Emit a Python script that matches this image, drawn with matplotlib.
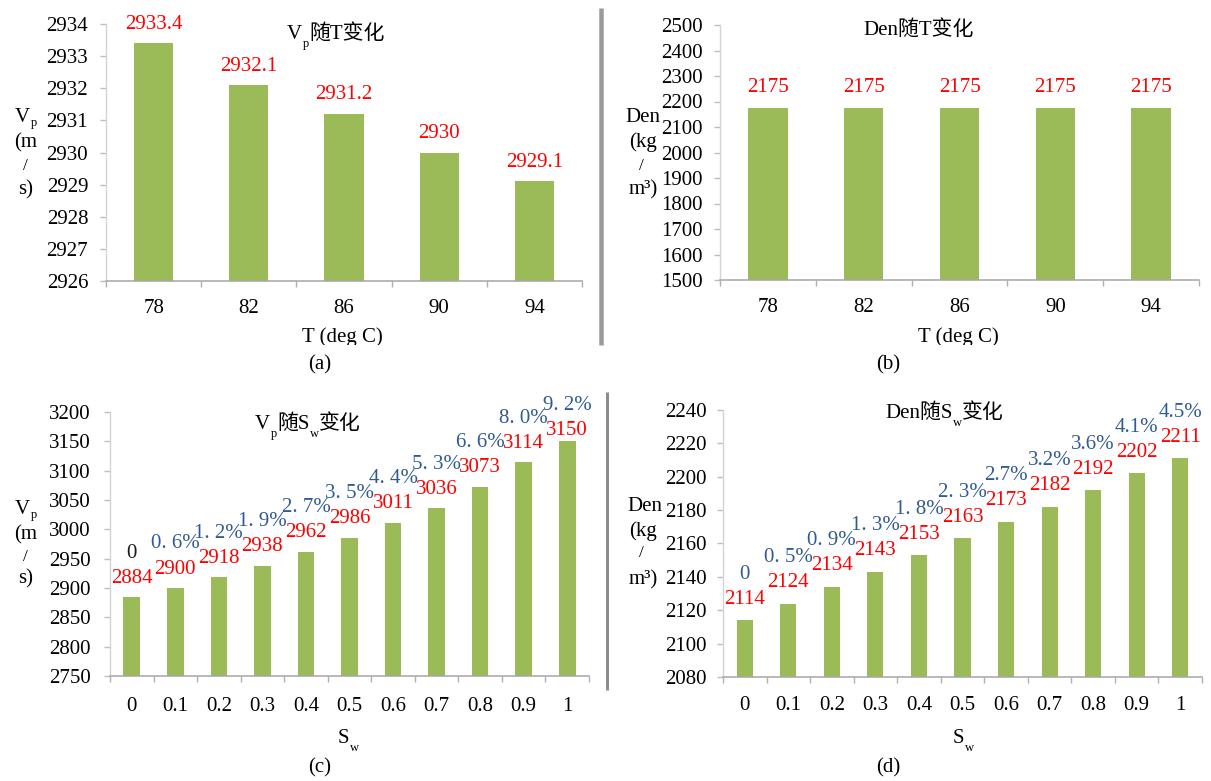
import numpy as np
import matplotlib
matplotlib.use("Agg")
import matplotlib.pyplot as plt
from matplotlib.transforms import Bbox

# ---- data ----
temps = ["78", "82", "86", "90", "94"]
vp_by_temp = [2933.4, 2932.1, 2931.2, 2930, 2929.1]
den_by_temp = [2175, 2175, 2175, 2175, 2175]

sw_labels = ["0", "0.1", "0.2", "0.3", "0.4", "0.5", "0.6", "0.7", "0.8", "0.9", "1"]
vp_by_sw = [2884, 2900, 2918, 2938, 2962, 2986, 3011, 3036, 3073, 3114, 3150]
vp_change = ["0", "0. 6%", "1. 2%", "1. 9%", "2. 7%", "3. 5%", "4. 4%", "5. 3%",
             "6. 6%", "8. 0%", "9. 2%"]
den_by_sw = [2114, 2124, 2134, 2143, 2153, 2163, 2173, 2182, 2192, 2202, 2211]
den_change = ["0", "0. 5%", "0. 9%", "1. 3%", "1. 8%", "2. 3%", "2.7%", "3.2%",
              "3.6%", "4.1%", "4.5%"]

# ---- style ----
W, H, DPI = 1211, 781, 100
PT = 72 / DPI            # points per pixel
GREEN = "#9BBB59"
RED = "#FF0000"
BLUE = "#2F5A92"
FAM = ["Liberation Serif", "Noto Sans CJK SC"]
plt.rcParams["font.family"] = FAM
FS = 15

fig = plt.figure(figsize=(W / DPI, H / DPI), dpi=DPI)
fig.patch.set_facecolor("white")

# overlay in pixel units (origin top-left) for free text and separators
ov = fig.add_axes([0, 0, 1, 1], zorder=5)
ov.set_xlim(0, W)
ov.set_ylim(H, 0)
ov.axis("off")


def px_axes(left, top, right, bottom):
    return fig.add_axes([left / W, 1 - bottom / H, (right - left) / W, (bottom - top) / H])


def rich(x, y, pieces, size=FS, sub_dy=-4.5, clip=None):
    """Left-aligned text on a baseline with optional subscript pieces."""
    first = prev = None
    for s, kind in pieces:
        fs = size if kind == "n" else size * 0.6
        if prev is None:
            t = ov.text(x, y, s, fontsize=fs, family=FAM, ha="left", va="baseline")
            first = t
        else:
            dy = 0 if kind == "n" else sub_dy
            dx = 0 if kind == "n" else 0.5
            t = ov.annotate(s, xy=(1, 0), xycoords=(prev, first), xytext=(dx, dy),
                            textcoords="offset points", fontsize=fs, family=FAM,
                            ha="left", va="bottom", annotation_clip=False)
        if clip is not None:
            t.set_clip_box(clip)
            t.set_clip_on(True)
        prev = t


def bar_panel(rect, labels, values, yticks, width, xpad, ypad):
    ax = px_axes(*rect)
    x = np.arange(len(labels))
    ax.bar(x, values, width=width, color=GREEN, zorder=2)
    ax.set_xlim(-0.5, len(labels) - 0.5)
    ax.set_ylim(yticks[0], yticks[-1])
    ax.set_yticks(yticks)
    ax.set_yticklabels([f"{v:g}" for v in yticks])
    ax.set_xticks(x)
    ax.set_xticklabels(labels)
    ax.set_xticks(np.arange(len(labels) + 1) - 0.5, minor=True)
    ax.tick_params(axis="x", which="major", length=0, pad=xpad, labelsize=FS)
    ax.tick_params(axis="x", which="minor", length=6 * PT, width=1, color="#B0B0B0")
    ax.tick_params(axis="y", which="major", length=6 * PT, width=1, color="#BFBFBF",
                   pad=ypad, labelsize=FS)
    ax.tick_params(axis="y", which="minor", length=0)
    for side in ("top", "right"):
        ax.spines[side].set_visible(False)
    ax.spines["left"].set_color("#D4D4D4")
    ax.spines["bottom"].set_color("#A6A6A6")
    ax.spines["left"].set_linewidth(1)
    ax.spines["bottom"].set_linewidth(1.1)
    return ax, x


def value_labels(ax, x, values, off_px, changes=None, first_color=BLUE, last_off=None):
    n = len(values)
    for i, (xi, v) in enumerate(zip(x, values)):
        off = last_off if (last_off is not None and i == n - 1) else off_px
        ax.annotate(f"{v:g}", (xi, v), xytext=(0, off * PT), textcoords="offset points",
                    ha="center", va="center", color=RED, fontsize=FS, annotation_clip=False)
        if changes is not None:
            col = first_color if i == 0 else BLUE
            ax.annotate(changes[i], (xi, v), xytext=(0, (off + 25) * PT),
                        textcoords="offset points", ha="center", va="center",
                        color=col, fontsize=FS, annotation_clip=False)


# (a) Vp vs T
ax_a, xa = bar_panel((106, 24, 582, 281), temps, vp_by_temp,
                     np.arange(2926, 2935, 1), 0.41, 13, 8.5)
value_labels(ax_a, xa, vp_by_temp, 19)

# (b) Den vs T
ax_b, xb = bar_panel((720, 25, 1199, 280), temps, den_by_temp,
                     np.arange(1500, 2501, 100), 0.41, 13, 8)
value_labels(ax_b, xb, den_by_temp, 20)

# (c) Vp vs Sw
ax_c, xc = bar_panel((110, 412, 589, 676), sw_labels, vp_by_sw,
                     np.arange(2750, 3201, 50), 0.38, 15, 9.5)
value_labels(ax_c, xc, vp_by_sw, 19, vp_change, first_color="#1A1A1A", last_off=11)

# (d) Den vs Sw
ax_d, xd = bar_panel((723, 410, 1202, 677), sw_labels, den_by_sw,
                     np.arange(2080, 2241, 20), 0.37, 14, 7.5)
value_labels(ax_d, xd, den_by_sw, 21, den_change)

# titles
rich(287, 39, [("V", "n"), ("p", "s"), ("随T变化", "n")])
rich(863, 35, [("Den随T变化", "n")])
rich(255, 429, [("V", "n"), ("p", "s"), ("随S", "n"), ("w", "s"), ("变化", "n")])
rich(885, 418, [("Den随S", "n"), ("w", "s"), ("变化", "n")])

# x-axis titles (upper row is cut off by the panel edge)
top_clip = Bbox.from_extents(0, H - 345, W, H)
for cx in (342, 958):
    t = ov.text(cx, 342, "T (deg C)", fontsize=FS, ha="center", va="baseline")
    t.set_clip_box(top_clip)
    t.set_clip_on(True)
rich(338, 743, [("S", "n"), ("w", "s")])
rich(953, 743, [("S", "n"), ("w", "s")])

# y-axis titles, stacked
for top in (0, 392):
    rich(15, 122 + top, [("V", "n"), ("p", "s")], sub_dy=-1.5)
    ov.text(26, 143 + top, "(m", fontsize=FS, ha="center", va="center")
    ov.text(25, 166 + top - (1 if top else 0), "/", fontsize=12.5, ha="center", va="center")
    ov.text(26, 190 + top - (3 if top else 0), "s)", fontsize=FS, ha="center", va="center")
for top, base in ((0, 122), (390, 511)):
    rich(625 if top == 0 else 627, base, [("Den", "n")])
    ov.text(643, 142 + top - (1 if top else 0), "(kg", fontsize=FS, ha="center", va="center")
    ov.text(641, 166 + top - (3 if top else 0), "/", fontsize=12.5, ha="center", va="center")
    ov.text(643, 190 + top, "m³)", fontsize=FS, ha="center", va="center")

# panel tags
for cx, cy, tag in ((320, 365, "(a)"), (888, 365, "(b)"), (320, 768, "(c)"), (888, 768, "(d)")):
    ov.text(cx, cy, tag, fontsize=FS, ha="center", va="center")

# separators between the two columns
ov.plot([601, 601], [8, 345], color="#9A9A9A", lw=4.5 * PT, solid_capstyle="butt")
ov.plot([607, 607], [392, 690], color="#8C8C8C", lw=3 * PT, solid_capstyle="butt")

fig.savefig("out.png", dpi=DPI, facecolor="white")
